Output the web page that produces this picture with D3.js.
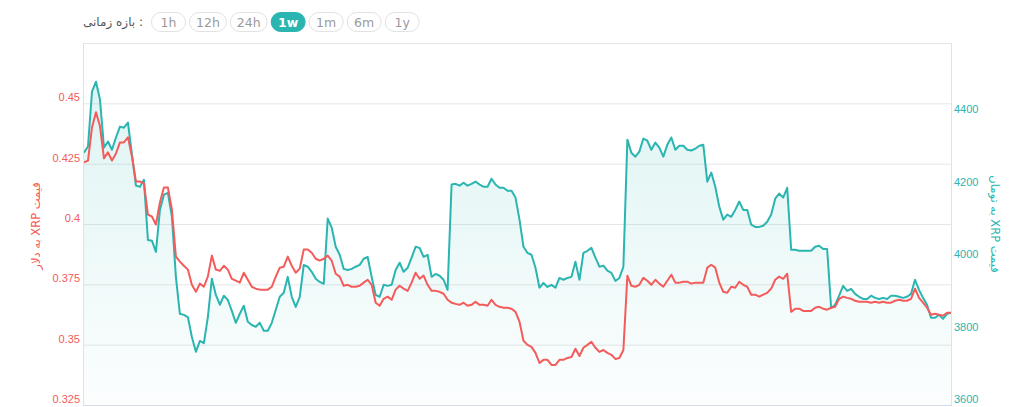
<!DOCTYPE html>
<html><head><meta charset="utf-8">
<script src="https://cdn.jsdelivr.net/npm/d3@7"></script>
<style>
html,body{margin:0;padding:0;background:#fff;}
svg{display:block;}
</style></head><body>
<svg id="c" width="1024" height="407"></svg>
<script>
// XRP price in USD (left axis), sampled evenly over one week
const usdPrice = [
0.4255,0.4263,0.4400,0.4463,0.4405,0.4272,0.4297,0.4263,0.4292,0.4338,
0.4338,0.4359,0.4280,0.4176,0.4176,0.4168,0.4039,0.4031,0.3998,0.4089,
0.4151,0.4151,0.4060,0.3865,0.3844,0.3827,0.3811,0.3748,0.3719,0.3753,
0.3740,0.3782,0.3869,0.3811,0.3806,0.3827,0.3811,0.3773,0.3765,0.3757,
0.3798,0.3769,0.3740,0.3732,0.3728,0.3728,0.3728,0.3740,0.3782,0.3819,
0.3823,0.3865,0.3827,0.3798,0.3815,0.3894,0.3894,0.3881,0.3856,0.3848,
0.3856,0.3869,0.3848,0.3794,0.3782,0.3744,0.3748,0.3740,0.3740,0.3744,
0.3757,0.3769,0.3748,0.3674,0.3661,0.3690,0.3699,0.3686,0.3728,0.3744,
0.3732,0.3723,0.3757,0.3798,0.3773,0.3786,0.3748,0.3723,0.3723,0.3719,
0.3711,0.3686,0.3674,0.3669,0.3665,0.3674,0.3661,0.3665,0.3678,0.3665,
0.3665,0.3661,0.3686,0.3665,0.3657,0.3653,0.3653,0.3649,0.3636,0.3595,
0.3516,0.3499,0.3491,0.3466,0.3424,0.3437,0.3437,0.3416,0.3416,0.3437,
0.3437,0.3445,0.3449,0.3483,0.3453,0.3487,0.3499,0.3512,0.3487,0.3470,
0.3478,0.3466,0.3458,0.3441,0.3445,0.3478,0.3786,0.3744,0.3740,0.3748,
0.3777,0.3765,0.3748,0.3769,0.3753,0.3740,0.3765,0.3790,0.3757,0.3757,
0.3761,0.3761,0.3753,0.3757,0.3757,0.3757,0.3819,0.3831,0.3819,0.3757,
0.3719,0.3715,0.3740,0.3736,0.3761,0.3748,0.3740,0.3707,0.3707,0.3699,
0.3707,0.3715,0.3732,0.3769,0.3782,0.3773,0.3794,0.3636,0.3649,0.3649,
0.3640,0.3640,0.3640,0.3653,0.3657,0.3649,0.3645,0.3653,0.3657,0.3690,
0.3699,0.3694,0.3690,0.3682,0.3678,0.3678,0.3678,0.3674,0.3678,0.3674,
0.3678,0.3674,0.3674,0.3682,0.3686,0.3682,0.3682,0.3690,0.3732,0.3694,
0.3674,0.3653,0.3624,0.3628,0.3624,0.3620,0.3632,0.3632];

// XRP price in Toman (right axis), same timestamps
const tomanPrice = [
4297,4314,4466,4493,4444,4311,4328,4305,4339,4369,
4366,4380,4292,4206,4203,4222,4056,4054,4023,4139,
4181,4186,4120,3954,3852,3849,3843,3788,3747,3777,
3771,3843,3949,3904,3877,3902,3890,3860,3827,3852,
3874,3830,3821,3816,3827,3805,3805,3827,3863,3899,
3910,3954,3899,3871,3899,3987,3982,3968,3949,3940,
3935,4115,4090,4037,4015,3976,3973,3976,3982,3987,
4004,4009,3954,3904,3899,3932,3929,3932,3973,3993,
3968,3979,4007,4037,4034,4009,4015,3954,3962,3957,
3946,3918,4209,4211,4206,4214,4206,4211,4217,4209,
4203,4203,4225,4209,4200,4200,4192,4192,4173,4112,
4037,4020,4015,3979,3924,3937,3926,3932,3924,3951,
3946,3951,3954,3996,3946,4020,4026,4034,4007,3982,
3985,3971,3965,3943,3951,3982,4333,4297,4286,4300,
4336,4330,4305,4325,4311,4286,4319,4339,4305,4316,
4316,4305,4303,4308,4316,4319,4217,4242,4203,4148,
4112,4126,4120,4139,4162,4139,4139,4098,4092,4092,
4095,4106,4126,4170,4184,4173,4200,4029,4029,4026,
4026,4026,4026,4037,4040,4031,4031,3868,3877,3902,
3929,3915,3921,3907,3899,3893,3893,3902,3896,3893,
3896,3893,3902,3902,3899,3896,3899,3907,3946,3918,
3896,3877,3841,3841,3849,3838,3852,3855];

const usdTicks = [0.325, 0.35, 0.375, 0.4, 0.425, 0.45];
const usdGrid = [0.35, 0.375, 0.4, 0.425, 0.45, 0.475];
const tomanTicks = [3600, 3800, 4000, 4200, 4400];
const ranges = ["1h", "12h", "24h", "1w", "1m", "6m", "1y"];
const activeRange = "1w";
const rangeLabel = "بازه زمانی :";
const usdTitle = "قیمت XRP به دلار";
const tomanTitle = "قیمت XRP به تومان";

const RED = "#f45b5b", TEAL = "#2ab5b1";
const L = 84, R = 951, T = 43, B = 405;
const svg = d3.select("#c");
const numFont = "'Liberation Sans', Arial, sans-serif";
const faFont = "'DejaVu Sans', sans-serif";

const x = d3.scaleLinear().domain([0, usdPrice.length - 1]).range([L, R]);
const yL = d3.scaleLinear().domain([0.325, 0.475]).range([B, T]);
const yR = d3.scaleLinear().domain([3600, 4600]).range([B, T]);

// gradient
const defs = svg.append("defs");
const grad = defs.append("linearGradient").attr("id", "tg")
  .attr("gradientUnits", "userSpaceOnUse").attr("x1", 0).attr("x2", 0).attr("y1", T).attr("y2", B);
grad.append("stop").attr("offset", 0).attr("stop-color", TEAL).attr("stop-opacity", 0.17);
grad.append("stop").attr("offset", 1).attr("stop-color", TEAL).attr("stop-opacity", 0.015);
defs.append("clipPath").attr("id", "clip").append("rect")
  .attr("x", L).attr("y", T - 5).attr("width", R - L).attr("height", B - T + 5);

// grid
svg.append("g").attr("transform", `translate(${L},0)`)
  .call(d3.axisLeft(yL).tickValues(usdGrid).tickSize(-(R - L)).tickFormat(""))
  .call(g => { g.select(".domain").remove(); g.selectAll("line").attr("stroke", "#e6e6e6"); });

// area + lines
const curve = d3.curveLinear;
const plot = svg.append("g").attr("clip-path", "url(#clip)");
plot.append("path").datum(tomanPrice)
  .attr("d", d3.area().x((d, i) => x(i)).y0(B).y1(d => yR(d)).curve(curve))
  .attr("fill", "url(#tg)");
plot.append("path").datum(tomanPrice)
  .attr("d", d3.line().x((d, i) => x(i)).y(d => yR(d)).curve(curve))
  .attr("fill", "none").attr("stroke", TEAL).attr("stroke-width", 2).attr("stroke-linejoin", "round");
plot.append("path").datum(usdPrice)
  .attr("d", d3.line().x((d, i) => x(i)).y(d => yL(d)).curve(curve))
  .attr("fill", "none").attr("stroke", RED).attr("stroke-width", 2).attr("stroke-linejoin", "round");

// frame lines
svg.append("line").attr("x1", L - 0.5).attr("x2", L - 0.5).attr("y1", T).attr("y2", B + 1).attr("stroke", "#dde2ec");
svg.append("line").attr("x1", R + 0.5).attr("x2", R + 0.5).attr("y1", T).attr("y2", B + 1).attr("stroke", "#dde2ec");
svg.append("line").attr("x1", L - 1).attr("x2", R + 1).attr("y1", B + 0.5).attr("y2", B + 0.5).attr("stroke", "#d5dbe8");

// left axis labels
svg.append("g").attr("transform", `translate(${L},0)`)
  .call(d3.axisLeft(yL).tickValues(usdTicks).tickSize(0).tickPadding(4).tickFormat(d => String(d)))
  .call(g => {
    g.select(".domain").remove();
    g.selectAll("text").attr("y", -6).attr("fill", RED)
      .style("font-family", numFont).style("font-size", "11px");
  });
// right axis labels
svg.append("g").attr("transform", `translate(${R},0)`)
  .call(d3.axisRight(yR).tickValues(tomanTicks).tickSize(0).tickPadding(3).tickFormat(d => String(d)))
  .call(g => {
    g.select(".domain").remove();
    g.selectAll("text").attr("y", -6).attr("fill", TEAL)
      .style("font-family", numFont).style("font-size", "11px");
  });

// axis titles
svg.append("text").attr("transform", `translate(40,226) rotate(-90)`)
  .attr("text-anchor", "middle").style("direction", "rtl")
  .style("font-family", faFont).style("font-size", "11.5px").attr("fill", RED).text(usdTitle);
svg.append("text").attr("transform", `translate(991,224) rotate(90)`)
  .attr("text-anchor", "middle").style("direction", "rtl")
  .style("font-family", faFont).style("font-size", "11.5px").attr("fill", TEAL).text(tomanTitle);

// range selector
svg.append("text").attr("x", 143).attr("y", 26).attr("text-anchor", "end")
  .style("font-family", faFont).style("font-size", "12px").attr("fill", "#555").text(rangeLabel);
let bx = 151;
ranges.forEach(r => {
  const active = r === activeRange;
  const g = svg.append("g");
  const t = g.append("text").attr("y", 26.5).attr("text-anchor", "middle")
    .style("font-family", faFont).style("font-size", "12.5px")
    .style("font-weight", active ? "bold" : "normal")
    .attr("fill", active ? "#fff" : "#9a9a9a").text(r);
  const len = t.node().getComputedTextLength();
  const w = Math.max(34, len + 13);
  g.insert("rect", "text").attr("x", bx + 0.5).attr("y", 12.5).attr("width", w).attr("height", 19)
    .attr("rx", 9.5).attr("fill", active ? TEAL : "#fff").attr("stroke", active ? TEAL : "#e2e2e2");
  t.attr("x", bx + 0.5 + w / 2);
  bx += w + 4;
});
</script>
</body></html>
